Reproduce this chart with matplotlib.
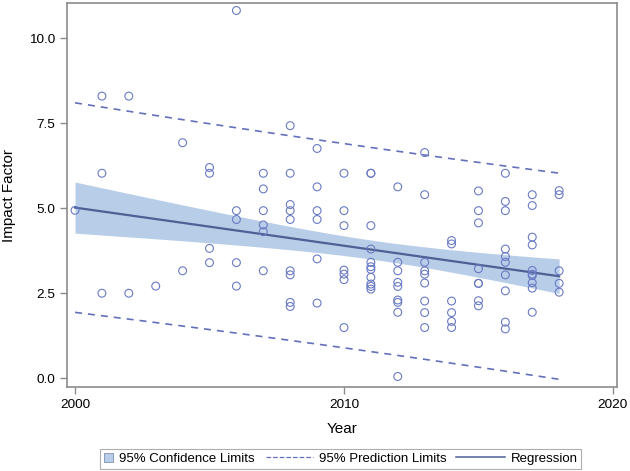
import numpy as np
import matplotlib
matplotlib.use("Agg")
import matplotlib.pyplot as plt
from matplotlib.patches import Patch
from matplotlib.lines import Line2D
from matplotlib.legend_handler import HandlerBase

plt.rcParams['font.family'] = ['Liberation Sans', 'DejaVu Sans']

# impact factor values read per publication year
impact = {
    2000: [4.94],
    2001: [8.30, 6.03, 2.50],
    2002: [8.30, 2.50],
    2003: [2.71],
    2004: [6.93, 3.16],
    2005: [6.20, 6.03, 3.82, 3.40],
    2006: [10.82, 4.93, 4.67, 3.40, 2.71],
    2007: [6.03, 5.57, 4.93, 4.51, 4.31, 3.16],
    2008: [7.43, 6.03, 5.11, 4.93, 4.67, 3.16, 3.04, 2.23, 2.11],
    2009: [6.76, 5.63, 4.93, 4.67, 3.51, 2.21],
    2010: [6.03, 4.93, 4.49, 3.18, 3.06, 2.90, 1.49],
    2011: [6.03, 6.03, 4.49, 3.80, 3.41, 3.28, 3.20, 2.97, 2.77, 2.70, 2.62],
    2012: [5.63, 3.41, 3.16, 2.82, 2.70, 2.30, 2.23, 1.94, 0.05],
    2013: [6.64, 5.40, 3.41, 3.16, 3.06, 2.80, 2.27, 1.93, 1.49],
    2014: [4.05, 3.95, 2.27, 1.93, 1.67, 1.49],
    2015: [5.51, 4.93, 4.57, 3.22, 2.79, 2.79, 2.28, 2.13],
    2016: [6.03, 5.20, 4.93, 3.80, 3.58, 3.41, 3.04, 2.57, 1.65, 1.45],
    2017: [5.40, 5.08, 4.15, 3.92, 3.17, 3.06, 3.02, 2.81, 2.65, 1.94],
    2018: [5.52, 5.40, 3.16, 2.79, 2.53],
}

# fitted regression as shown in the chart (value at first / last year)
fit_years = [2000, 2018]
fit_values = [5.02, 3.00]
t_times_s = 2.99   # t(0.975) * root MSE, read from the limit widths

years = np.array([y for y, vals in impact.items() for _ in vals], dtype=float)
values = np.array([v for vals in impact.values() for v in vals])

n = len(years)
xbar = years.mean()
sxx = np.sum((years - xbar) ** 2)
slope = (fit_values[1] - fit_values[0]) / (fit_years[1] - fit_years[0])
xs = np.linspace(fit_years[0], fit_years[1], 200)
yhat = fit_values[0] + slope * (xs - fit_years[0])
ci = t_times_s * np.sqrt(1.0 / n + (xs - xbar) ** 2 / sxx)
pi = t_times_s * np.sqrt(1.0 + 1.0 / n + (xs - xbar) ** 2 / sxx)

band_col = '#b8cde8'
line_col = '#4d6194'
dash_col = '#6470bb'
mark_col = '#6a7ac4'
frame_col = '#8c8c8c'
dash_style = (0, (4.2, 3.6))

fig = plt.figure(figsize=(6.3, 4.71), dpi=100)
ax = fig.add_axes([0.1063, 0.1783, 0.8730, 0.8153])

ax.fill_between(xs, yhat - ci, yhat + ci, color=band_col, lw=0, zorder=1)
ax.plot(xs, yhat + pi, color=dash_col, lw=1.2, ls=dash_style, zorder=2)
ax.plot(xs, yhat - pi, color=dash_col, lw=1.2, ls=dash_style, zorder=2)
ax.plot(xs, yhat, color=line_col, lw=1.6, zorder=3)
ax.scatter(years, values, s=32, facecolors='none', edgecolors=mark_col,
           linewidths=0.8, zorder=4)

ax.set_xlim(1999.70, 2020.15)
ax.set_ylim(-0.26, 11.04)
ax.set_xticks([2000, 2010, 2020])
ax.set_yticks([0.0, 2.5, 5.0, 7.5, 10.0])
ax.set_yticklabels(['0.0', '2.5', '5.0', '7.5', '10.0'])
ax.set_xlabel('Year', fontsize=11, labelpad=8)
ax.set_ylabel('Impact Factor', fontsize=11, labelpad=9)
ax.tick_params(colors=frame_col, labelcolor='black', labelsize=9.7,
               length=5, width=1)
for sp in ax.spines.values():
    sp.set_color(frame_col)
    sp.set_linewidth(1.2)


class LongLine(HandlerBase):
    # line sample reaching left past the small handle box
    def __init__(self, extra):
        super().__init__()
        self.extra = extra

    def create_artists(self, legend, orig_handle, xdescent, ydescent,
                       width, height, fontsize, trans):
        y = height / 2.0 - ydescent
        ln = Line2D([-xdescent - self.extra, width - xdescent], [y, y],
                    color=orig_handle.get_color(),
                    lw=orig_handle.get_linewidth(),
                    ls=orig_handle.get_linestyle())
        ln.set_transform(trans)
        return [ln]


h_patch = Patch(facecolor=band_col, edgecolor='#7f8fb0', lw=0.6)
h_pred = Line2D([], [], color=dash_col, lw=0.9, ls=(0, (4, 3)))
h_reg = Line2D([], [], color=line_col, lw=1.1)
labels = ['95% Confidence Limits', '95% Prediction Limits', 'Regression']
leg = fig.legend([h_patch, h_pred, h_reg], labels, loc='center',
                 bbox_to_anchor=(0.541, 0.026), ncol=3, fontsize=9.5,
                 frameon=True, fancybox=False,
                 handlelength=0.7, handleheight=0.7, columnspacing=3.7,
                 handletextpad=0.45, borderpad=0.3, borderaxespad=0,
                 handler_map={h_pred: LongLine(27.0), h_reg: LongLine(28.5)})
leg.get_frame().set_edgecolor('#9a9a9a')
leg.get_frame().set_linewidth(0.8)

fig.savefig('out.png', dpi=100)
